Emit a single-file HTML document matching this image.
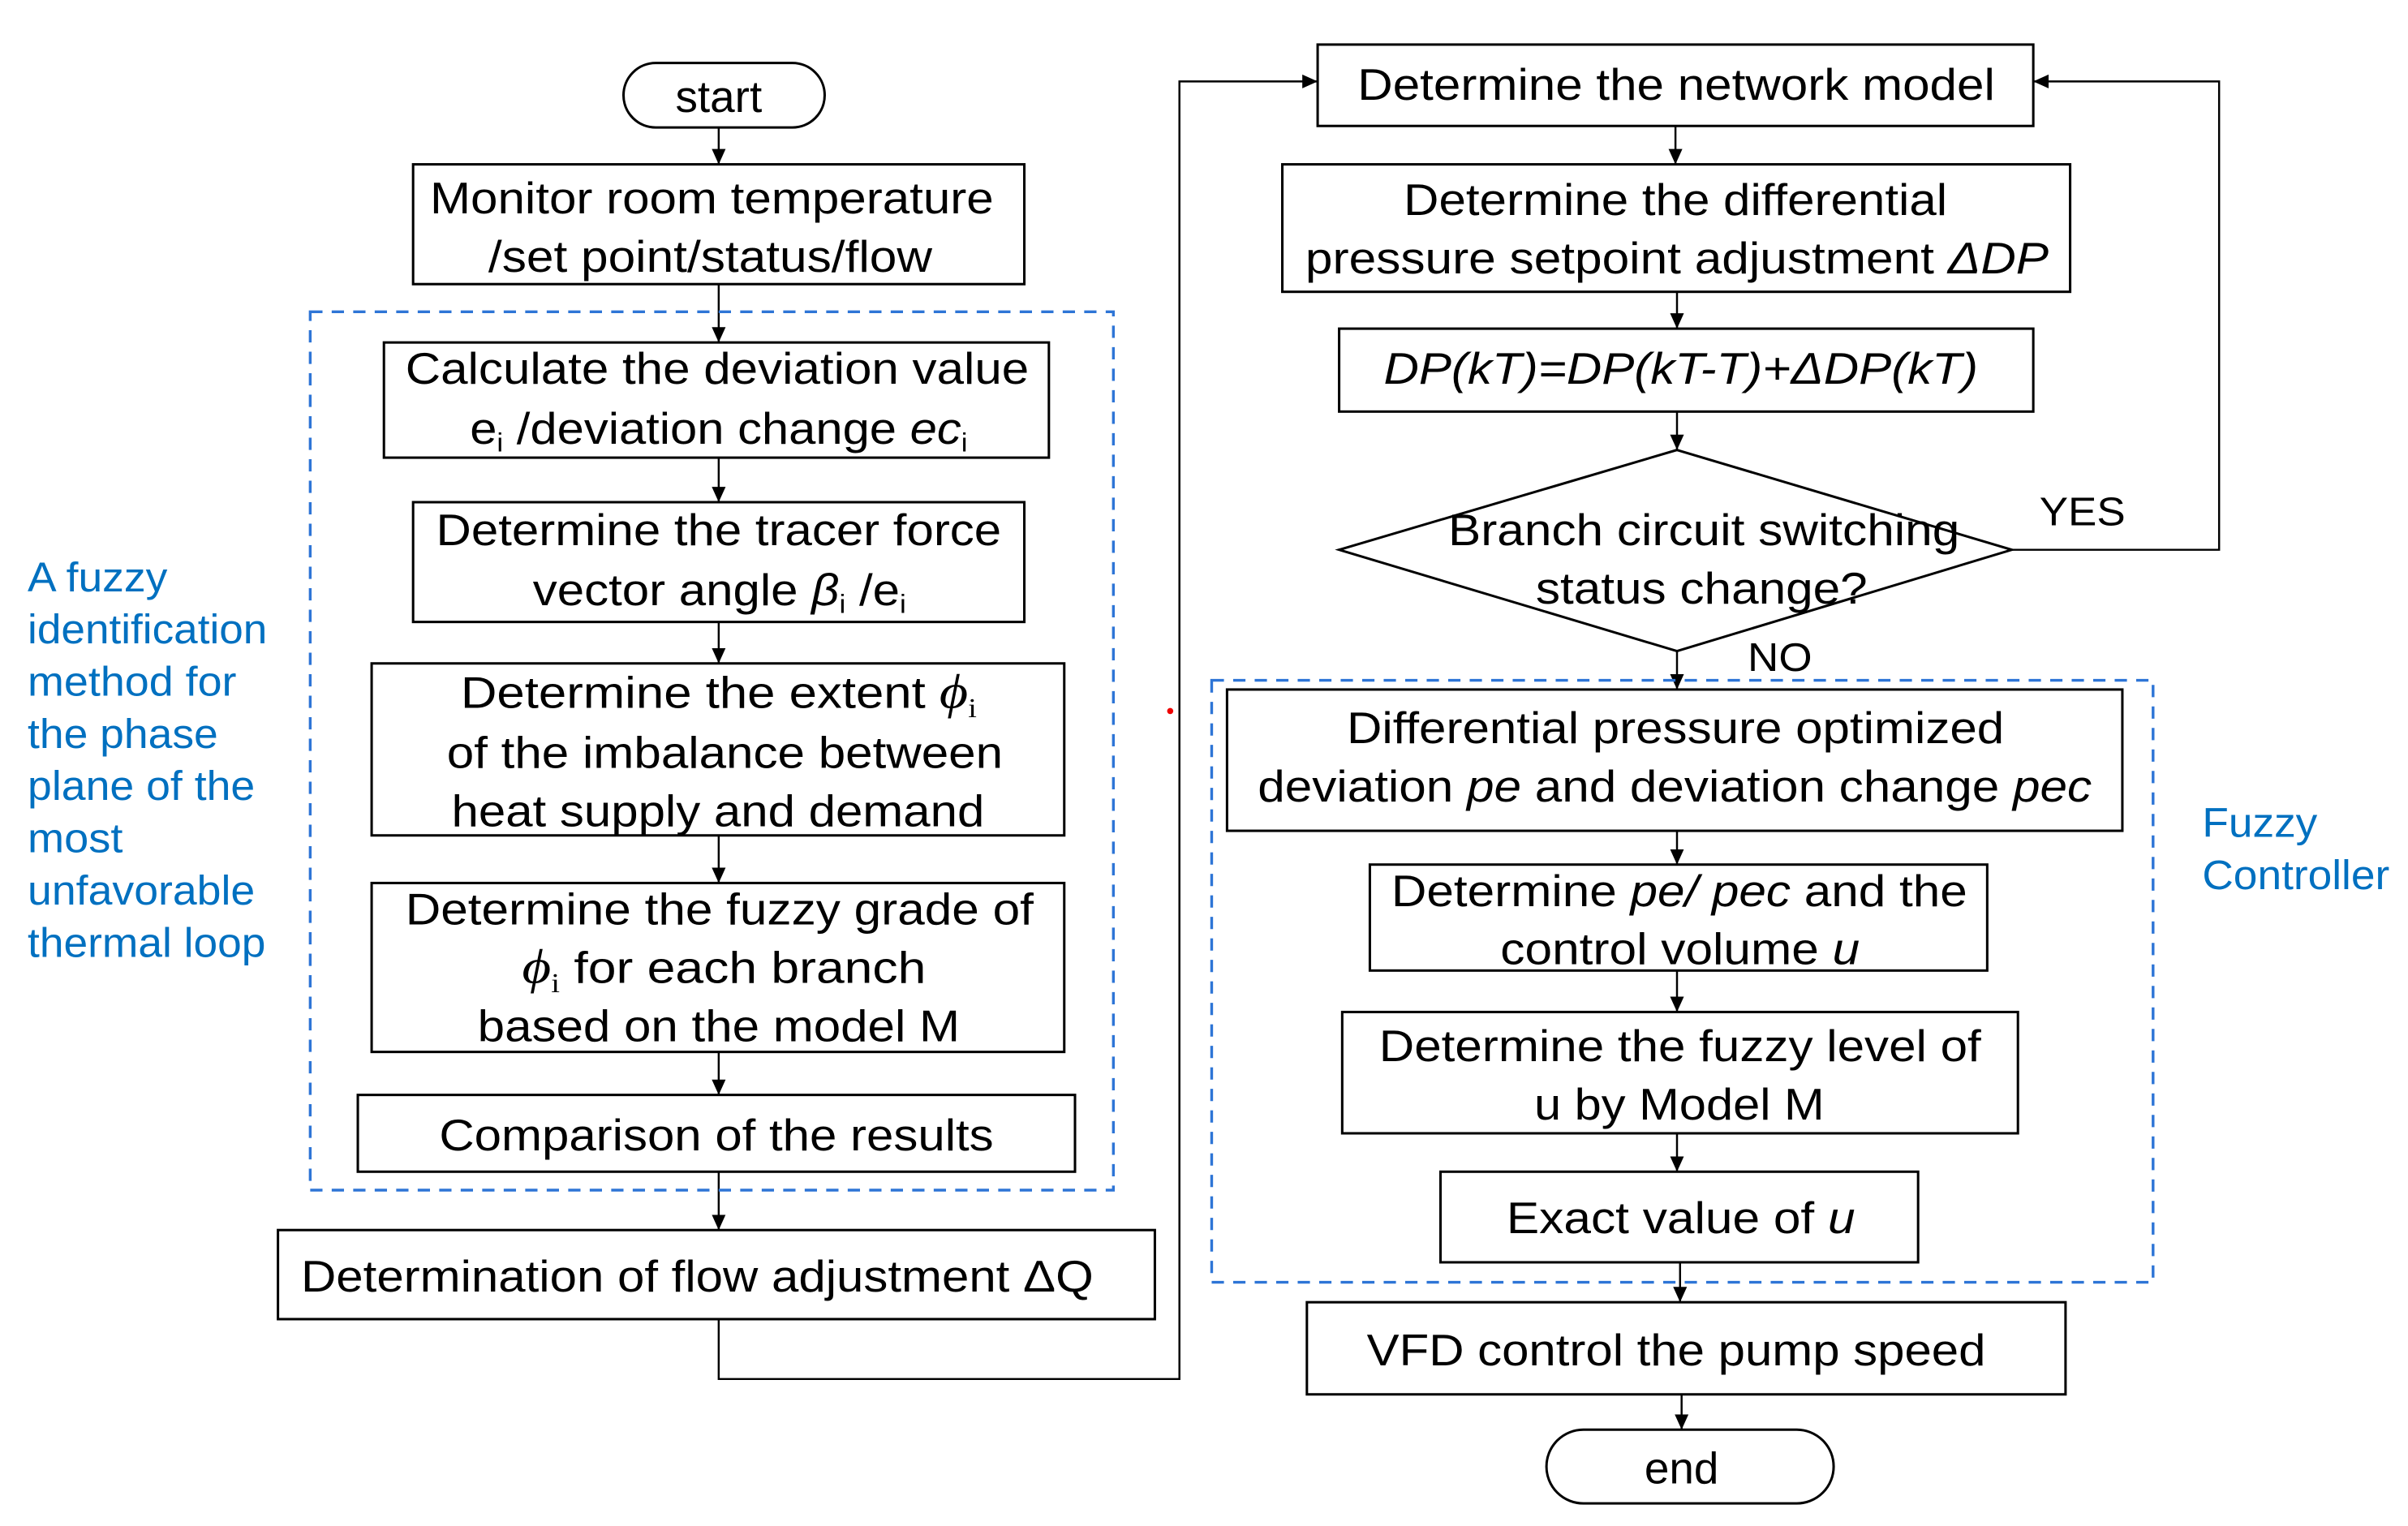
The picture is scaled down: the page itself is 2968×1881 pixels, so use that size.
<!DOCTYPE html>
<html><head><meta charset="utf-8"><style>html,body{margin:0;padding:0;background:#fff}svg{display:block}</style></head><body>
<svg width="2968" height="1881" viewBox="0 0 1568 993.7" xmlns="http://www.w3.org/2000/svg" font-family="Liberation Sans, Arial, sans-serif">
<defs><marker id="a" markerWidth="12" markerHeight="12" refX="10" refY="5" orient="auto" markerUnits="userSpaceOnUse"><path d="M0,0.5 L10,5 L0,9.5 z" fill="#000"/></marker></defs>
<g fill="none" stroke="#000" stroke-width="1.6">
<rect x="406" y="41" width="131" height="42" rx="21"/>
<rect x="269" y="107" width="398" height="78"/>
<rect x="250" y="223" width="433" height="75"/>
<rect x="269" y="327" width="398" height="78"/>
<rect x="242" y="432" width="451" height="112"/>
<rect x="242" y="575" width="451" height="110"/>
<rect x="233" y="713" width="467" height="50"/>
<rect x="181" y="801" width="571" height="58"/>
<rect x="858" y="29" width="466" height="53"/>
<rect x="835" y="107" width="513" height="83"/>
<rect x="872" y="214" width="452" height="54"/>
<path d="M1092,293 L1310,358 L1092,424 L872,358 Z"/>
<rect x="799" y="449" width="583" height="92"/>
<rect x="892" y="563" width="402" height="69"/>
<rect x="874" y="659" width="440" height="79"/>
<rect x="938" y="763" width="311" height="59"/>
<rect x="851" y="848" width="494" height="60"/>
<rect x="1007" y="931" width="187" height="48" rx="24"/>
</g>
<g fill="none" stroke="#000" stroke-width="1.3" marker-end="url(#a)">
<path d="M468,83 V107"/><path d="M468,185 V223"/><path d="M468,298 V327"/><path d="M468,405 V432"/><path d="M468,544 V575"/><path d="M468,685 V713"/><path d="M468,763 V801"/>
<path d="M468,859 V898 H768 V53 H858"/>
<path d="M1091,82 V107"/><path d="M1092,190 V214"/><path d="M1092,268 V293"/><path d="M1092,424 V449"/>
<path d="M1310,358 H1445 V53 H1324"/>
<path d="M1092,541 V563"/><path d="M1092,632 V659"/><path d="M1092,738 V763"/><path d="M1094,822 V848"/><path d="M1095,908 V931"/>
</g>
<g fill="none" stroke="#2E75D6" stroke-width="1.8" stroke-dasharray="8,6">
<rect x="202" y="203" width="523" height="572"/>
<rect x="789" y="443" width="613" height="392"/>
</g>
<circle cx="762" cy="463" r="2" fill="#e00"/>
<g font-size="29" fill="#000">
<text x="468" y="73" text-anchor="middle">start</text>
<text x="280" y="139" textLength="367" lengthAdjust="spacingAndGlyphs">Monitor room temperature</text>
<text x="318" y="177" textLength="289" lengthAdjust="spacingAndGlyphs">/set point/status/flow</text>
<text x="264" y="250" textLength="406" lengthAdjust="spacingAndGlyphs">Calculate the deviation value</text>
<text x="306" y="289" textLength="324" lengthAdjust="spacingAndGlyphs">e<tspan font-size="17" dy="5">i</tspan><tspan dy="-5"> /deviation change </tspan><tspan font-style="italic">ec</tspan><tspan font-size="17" dy="5">i</tspan></text>
<text x="284" y="355" textLength="368" lengthAdjust="spacingAndGlyphs">Determine the tracer force</text>
<text x="347" y="394" textLength="243" lengthAdjust="spacingAndGlyphs">vector angle <tspan font-style="italic">β</tspan><tspan font-size="17" dy="5">i</tspan><tspan dy="-5"> /e</tspan><tspan font-size="17" dy="5">i</tspan></text>
<text x="300" y="461" textLength="336" lengthAdjust="spacingAndGlyphs">Determine the extent <tspan font-family="Liberation Serif, serif" font-style="italic" font-size="32">ϕ</tspan><tspan font-family="Liberation Serif, serif" font-size="18" dy="6">i</tspan></text>
<text x="291" y="500" textLength="362" lengthAdjust="spacingAndGlyphs">of the imbalance between</text>
<text x="294" y="538" textLength="347" lengthAdjust="spacingAndGlyphs">heat supply and demand</text>
<text x="264" y="602" textLength="409" lengthAdjust="spacingAndGlyphs">Determine the fuzzy grade of</text>
<text x="340" y="640" textLength="263" lengthAdjust="spacingAndGlyphs"><tspan font-family="Liberation Serif, serif" font-style="italic" font-size="32">ϕ</tspan><tspan font-family="Liberation Serif, serif" font-size="18" dy="6">i</tspan><tspan dy="-6"> for each branch</tspan></text>
<text x="311" y="678" textLength="314" lengthAdjust="spacingAndGlyphs">based on the model M</text>
<text x="286" y="749" textLength="361" lengthAdjust="spacingAndGlyphs">Comparison of the results</text>
<text x="196" y="841" textLength="516" lengthAdjust="spacingAndGlyphs">Determination of flow adjustment ΔQ</text>
<text x="884" y="65" textLength="415" lengthAdjust="spacingAndGlyphs">Determine the network model</text>
<text x="914" y="140" textLength="354" lengthAdjust="spacingAndGlyphs">Determine the differential</text>
<text x="850" y="178" textLength="484" lengthAdjust="spacingAndGlyphs">pressure setpoint adjustment <tspan font-style="italic">ΔDP</tspan></text>
<text x="901" y="250" font-style="italic" textLength="387" lengthAdjust="spacingAndGlyphs">DP(kT)=DP(kT-T)+ΔDP(kT)</text>
<text x="943" y="355" textLength="333" lengthAdjust="spacingAndGlyphs">Branch circuit switching</text>
<text x="1000" y="393" textLength="216" lengthAdjust="spacingAndGlyphs">status change?</text>
<text x="1328" y="342" font-size="26" textLength="56" lengthAdjust="spacingAndGlyphs">YES</text>
<text x="1138" y="437" font-size="26" textLength="42" lengthAdjust="spacingAndGlyphs">NO</text>
<text x="877" y="484" textLength="428" lengthAdjust="spacingAndGlyphs">Differential pressure optimized</text>
<text x="819" y="522" textLength="543" lengthAdjust="spacingAndGlyphs">deviation <tspan font-style="italic">pe</tspan> and deviation change <tspan font-style="italic">pec</tspan></text>
<text x="906" y="590" textLength="375" lengthAdjust="spacingAndGlyphs">Determine <tspan font-style="italic">pe/ pec</tspan> and the</text>
<text x="977" y="628" textLength="234" lengthAdjust="spacingAndGlyphs">control volume <tspan font-style="italic">u</tspan></text>
<text x="898" y="691" textLength="392" lengthAdjust="spacingAndGlyphs">Determine the fuzzy level of</text>
<text x="999" y="729" textLength="189" lengthAdjust="spacingAndGlyphs">u by Model M</text>
<text x="981" y="803" textLength="227" lengthAdjust="spacingAndGlyphs">Exact value of <tspan font-style="italic">u</tspan></text>
<text x="890" y="889" textLength="403" lengthAdjust="spacingAndGlyphs">VFD control the pump speed</text>
<text x="1095" y="966" text-anchor="middle">end</text>
</g>
<g font-size="27" fill="#0070C0">
<text x="18" y="385" textLength="91" lengthAdjust="spacingAndGlyphs">A fuzzy</text>
<text x="18" y="419" textLength="156" lengthAdjust="spacingAndGlyphs">identification</text>
<text x="18" y="453" textLength="136" lengthAdjust="spacingAndGlyphs">method for</text>
<text x="18" y="487" textLength="124" lengthAdjust="spacingAndGlyphs">the phase</text>
<text x="18" y="521" textLength="148" lengthAdjust="spacingAndGlyphs">plane of the</text>
<text x="18" y="555" textLength="62" lengthAdjust="spacingAndGlyphs">most</text>
<text x="18" y="589" textLength="148" lengthAdjust="spacingAndGlyphs">unfavorable</text>
<text x="18" y="623" textLength="155" lengthAdjust="spacingAndGlyphs">thermal loop</text>
<text x="1434" y="545" textLength="75" lengthAdjust="spacingAndGlyphs">Fuzzy</text>
<text x="1434" y="579" textLength="122" lengthAdjust="spacingAndGlyphs">Controller</text>
</g>
</svg>
</body></html>
